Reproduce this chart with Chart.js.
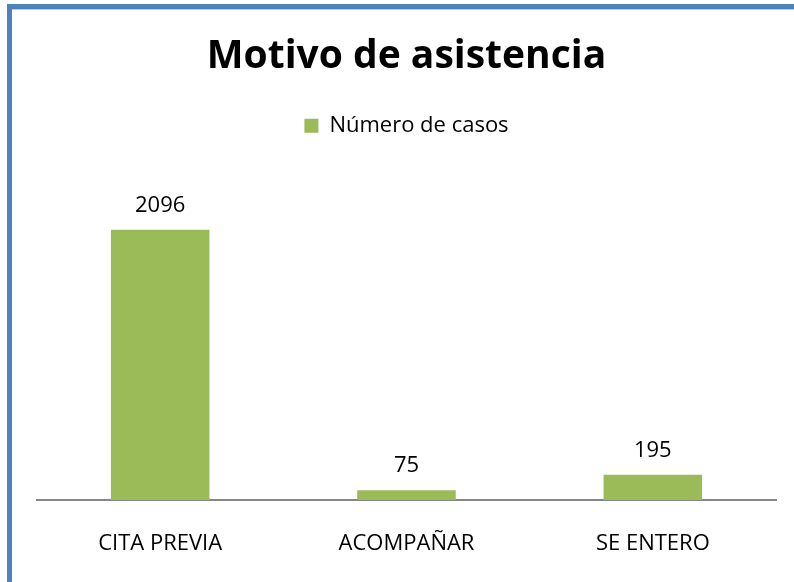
<!DOCTYPE html>
<html>
<head>
<meta charset="utf-8">
<script src="https://cdn.jsdelivr.net/npm/chart.js@4"></script>
<style>
html,body{margin:0;padding:0;background:#fff;}
#wrap{position:relative;width:794px;height:582px;}
</style>
</head>
<body>
<div id="wrap"><canvas id="c" width="794" height="582"></canvas></div>
<script>
const categories = ["CITA PREVIA", "ACOMPAÑAR", "SE ENTERO"];
const seriesName = "Número de casos";
const casos = [2096, 75, 195];
const chartTitle = "Motivo de asistencia";

const FONT = "'Open Sans', Lato, sans-serif";

const framePlugin = {
  id: 'frame',
  beforeDraw(chart) {
    const ctx = chart.ctx;
    ctx.save();
    ctx.fillStyle = '#ffffff';
    ctx.fillRect(0, 0, chart.width, chart.height);
    ctx.fillStyle = '#4F81BD';
    ctx.fillRect(7, 4, chart.width, 5);
    ctx.fillRect(7, 4, 5, chart.height);
    ctx.fillStyle = '#B9CDE5';
    ctx.fillRect(12, 9, chart.width, 1);
    ctx.restore();
  }
};

const labelPlugin = {
  id: 'valueLabels',
  afterDatasetsDraw(chart) {
    const ctx = chart.ctx;
    ctx.save();
    ctx.font = "22px " + FONT;
    ctx.fillStyle = '#000';
    ctx.textAlign = 'center';
    ctx.textBaseline = 'alphabetic';
    chart.getDatasetMeta(0).data.forEach((bar, i) => {
      ctx.fillText(String(chart.data.datasets[0].data[i]), bar.x, bar.y - 18);
    });
    ctx.restore();
  }
};

new Chart(document.getElementById('c'), {
  type: 'bar',
  data: {
    labels: categories,
    datasets: [{
      label: seriesName,
      data: casos,
      backgroundColor: '#9BBB59',
      borderWidth: 0,
      barPercentage: 0.4,
      categoryPercentage: 1.0
    }]
  },
  options: {
    responsive: false,
    animation: false,
    devicePixelRatio: 1,
    layout: { padding: { left: 37, right: 18, top: 20, bottom: 0 } },
    plugins: {
      title: {
        display: true,
        text: chartTitle,
        color: '#000',
        font: { family: FONT, size: 39, weight: 'bold', lineHeight: 1.2 },
        padding: { top: 13, bottom: 1 }
      },
      legend: {
        display: true,
        position: 'top',
        labels: {
          color: '#000',
          font: { family: FONT, size: 22 },
          boxWidth: 14,
          boxHeight: 14,
          padding: 34
        }
      },
      tooltip: { enabled: false }
    },
    scales: {
      x: {
        grid: { display: false, drawTicks: false },
        border: { display: true, color: '#868686', width: 2 },
        ticks: { color: '#000', font: { family: FONT, size: 22, lineHeight: 1.2 }, padding: 31 },
        afterFit(scale) { scale.height = 82; }
      },
      y: {
        display: false,
        min: 0,
        max: 2740
      }
    }
  },
  plugins: [framePlugin, labelPlugin]
});
</script>
</body>
</html>
